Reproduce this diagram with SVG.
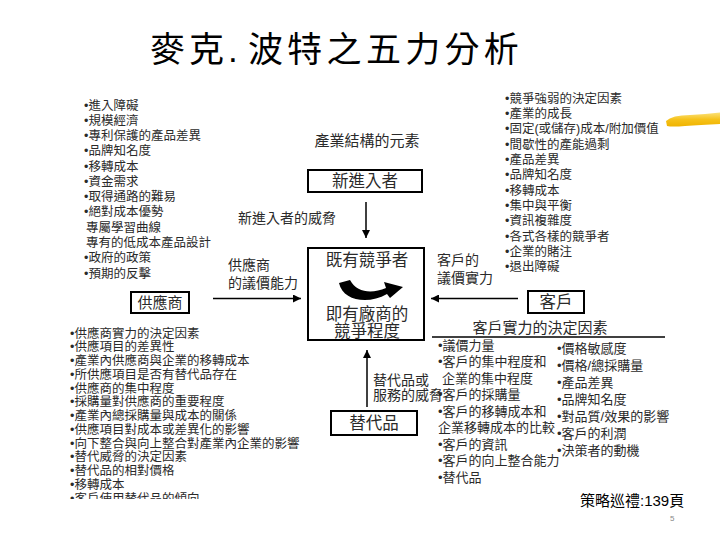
<svg xmlns="http://www.w3.org/2000/svg" width="720" height="540" viewBox="0 0 720 540">
<defs>
<style>
.t{font-family:"Liberation Sans","Noto Sans CJK TC",sans-serif;fill:#2a2a2a}
.s125{font-size:12.5px}
.s13{font-size:13px}
.s14{font-size:14px}
.s15{font-size:15px}
.s16{font-size:16.5px}
.c{text-anchor:middle}
.box{fill:#fff;stroke:#000;stroke-width:2}
.con{fill:none;stroke:#000;stroke-width:1.5}
</style>
<marker id="ah" viewBox="0 0 10 10" refX="10" refY="5" markerUnits="userSpaceOnUse" markerWidth="8" markerHeight="8" orient="auto">
<path d="M0,0 L10,5 L0,10 z" fill="#000"/>
</marker>
<clipPath id="cut"><rect x="0" y="0" width="720" height="499"/></clipPath>
<linearGradient id="hl" x1="0" y1="0" x2="0" y2="1">
<stop offset="0" stop-color="#fbe27a"/>
<stop offset="0.5" stop-color="#f6c21a"/>
<stop offset="1" stop-color="#efb300"/>
</linearGradient>
</defs>
<rect width="720" height="540" fill="#fff"/>

<g id="title">
<text class="t" x="150" y="62" style="font-size:35px;letter-spacing:4px;fill:#000">麥克.</text>
<text class="t" x="248" y="62" style="font-size:35px;letter-spacing:4.3px;fill:#000">波特之五力分析</text>
</g>

<path id="highlight" d="M666 121 Q672 115 690 115 Q705 114 720 112.5 L720 124 Q700 125 685 126 Q672 127 667 126 Z" fill="url(#hl)"/>

<g id="entry-barriers">
<text class="t s125">
<tspan x="84" y="109.5">•進入障礙</tspan>
<tspan x="84" y="124.8">•規模經濟</tspan>
<tspan x="84" y="140">•專利保護的產品差異</tspan>
<tspan x="84" y="155.3">•品牌知名度</tspan>
<tspan x="84" y="170.6">•移轉成本</tspan>
<tspan x="84" y="185.9">•資金需求</tspan>
<tspan x="84" y="201.1">•取得通路的難易</tspan>
<tspan x="84" y="216.4">•絕對成本優勢</tspan>
<tspan x="86" y="231.7">專屬學習曲線</tspan>
<tspan x="86" y="246.9">專有的低成本產品設計</tspan>
<tspan x="84" y="262.2">•政府的政策</tspan>
<tspan x="84" y="277.5">•預期的反擊</tspan>
</text>
</g>

<g id="rivalry-factors">
<text class="t s125">
<tspan x="505" y="102.5">•競爭強弱的決定因素</tspan>
<tspan x="505" y="117.9">•產業的成長</tspan>
<tspan x="505" y="133.2">•固定(或儲存)成本/附加價值</tspan>
<tspan x="505" y="148.6">•間歇性的產能過剩</tspan>
<tspan x="505" y="163.9">•產品差異</tspan>
<tspan x="505" y="179.3">•品牌知名度</tspan>
<tspan x="505" y="194.6">•移轉成本</tspan>
<tspan x="505" y="209.9">•集中與平衡</tspan>
<tspan x="505" y="225.3">•資訊複雜度</tspan>
<tspan x="505" y="240.6">•各式各樣的競爭者</tspan>
<tspan x="505" y="256">•企業的賭注</tspan>
<tspan x="505" y="271.3">•退出障礙</tspan>
</text>
</g>

<text class="t s15 c" x="367" y="145.5">產業結構的元素</text>

<g id="connectors">
<path class="con" d="M366 202 V238" marker-end="url(#ah)"/>
<path class="con" d="M213 298.5 H301" marker-end="url(#ah)"/>
<path class="con" d="M518 298.5 H431" marker-end="url(#ah)"/>
<path class="con" d="M367 407 V350" marker-end="url(#ah)"/>
<text class="t s14" x="238" y="223">新進入者的威脅</text>
<text class="t s14"><tspan x="228" y="270">供應商</tspan><tspan x="228" y="288">的議價能力</tspan></text>
<text class="t s14"><tspan x="437" y="265">客戶的</tspan><tspan x="437" y="283">議價實力</tspan></text>
<text class="t s14"><tspan x="373" y="385">替代品或</tspan><tspan x="373" y="400">服務的威脅</tspan></text>
</g>

<g id="new-entrants">
<rect class="box" x="308" y="170" width="114" height="22"/>
<text class="t s16 c" x="365" y="187">新進入者</text>
</g>

<g id="rivals">
<rect class="box" x="308" y="248" width="116" height="92"/>
<text class="t s16 c" x="367" y="266">既有競爭者</text>
<path d="M339 283 C343 301 368 305 387 294 L390 298 L403 287 L384 282 L386 288 C372 294 357 293 350 280 Z" fill="#000"/>
<text class="t s16 c"><tspan x="367" y="320">即有廠商的</tspan><tspan x="367" y="337">競爭程度</tspan></text>
</g>

<g id="suppliers">
<rect class="box" x="131" y="292" width="58" height="21"/>
<text class="t s15 c" x="160" y="308">供應商</text>
</g>

<g id="buyers">
<rect class="box" x="528" y="291" width="56" height="22"/>
<text class="t s16 c" x="556" y="308">客戶</text>
</g>

<g id="substitutes">
<rect class="box" x="331" y="411" width="86" height="24"/>
<text class="t s16 c" x="374" y="429">替代品</text>
</g>

<g id="supplier-factors" clip-path="url(#cut)">
<text class="t s125">
<tspan x="70" y="337.5">•供應商實力的決定因素</tspan>
<tspan x="70" y="351.3">•供應項目的差異性</tspan>
<tspan x="70" y="365">•產業內供應商與企業的移轉成本</tspan>
<tspan x="70" y="378.8">•所供應項目是否有替代品存在</tspan>
<tspan x="70" y="392.5">•供應商的集中程度</tspan>
<tspan x="70" y="406.3">•採購量對供應商的重要程度</tspan>
<tspan x="70" y="420">•產業內總採購量與成本的關係</tspan>
<tspan x="70" y="433.8">•供應項目對成本或差異化的影響</tspan>
<tspan x="70" y="447.5">•向下整合與向上整合對產業內企業的影響</tspan>
<tspan x="70" y="461.3">•替代威脅的決定因素</tspan>
<tspan x="70" y="475">•替代品的相對價格</tspan>
<tspan x="70" y="488.8">•移轉成本</tspan>
<tspan x="70" y="502.5">•客戶使用替代品的傾向</tspan>
</text>
</g>

<g id="buyer-factors">
<text class="t s15 c" x="540" y="332.5">客戶實力的決定因素</text>
<line x1="432" y1="337" x2="665" y2="337" stroke="#000" stroke-width="1.5"/>
<text class="t s13">
<tspan x="438" y="349.7">•議價力量</tspan>
<tspan x="438" y="366.2">•客戶的集中程度和</tspan>
<tspan x="442" y="382.7">企業的集中程度</tspan>
<tspan x="438" y="399.2">•客戶的採購量</tspan>
<tspan x="438" y="415.7">•客戶的移轉成本和</tspan>
<tspan x="438" y="432.2">企業移轉成本的比較</tspan>
<tspan x="438" y="448.7">•客戶的資訊</tspan>
<tspan x="438" y="465.2">•客戶的向上整合能力</tspan>
<tspan x="438" y="481.7">•替代品</tspan>
</text>
<text class="t s13">
<tspan x="557" y="352.7">•價格敏感度</tspan>
<tspan x="557" y="369.7">•價格/總採購量</tspan>
<tspan x="557" y="386.7">•產品差異</tspan>
<tspan x="557" y="403.7">•品牌知名度</tspan>
<tspan x="557" y="420.7">•對品質/效果的影響</tspan>
<tspan x="557" y="437.7">•客戶的利潤</tspan>
<tspan x="557" y="454.7">•決策者的動機</tspan>
</text>
</g>

<g id="footer">
<text class="t s15" x="580" y="505.5" style="fill:#000">策略巡禮:139頁</text>
<text x="670" y="521" style="font-family:'Liberation Sans',sans-serif;font-size:8px;fill:#888">5</text>
</g>
</svg>
